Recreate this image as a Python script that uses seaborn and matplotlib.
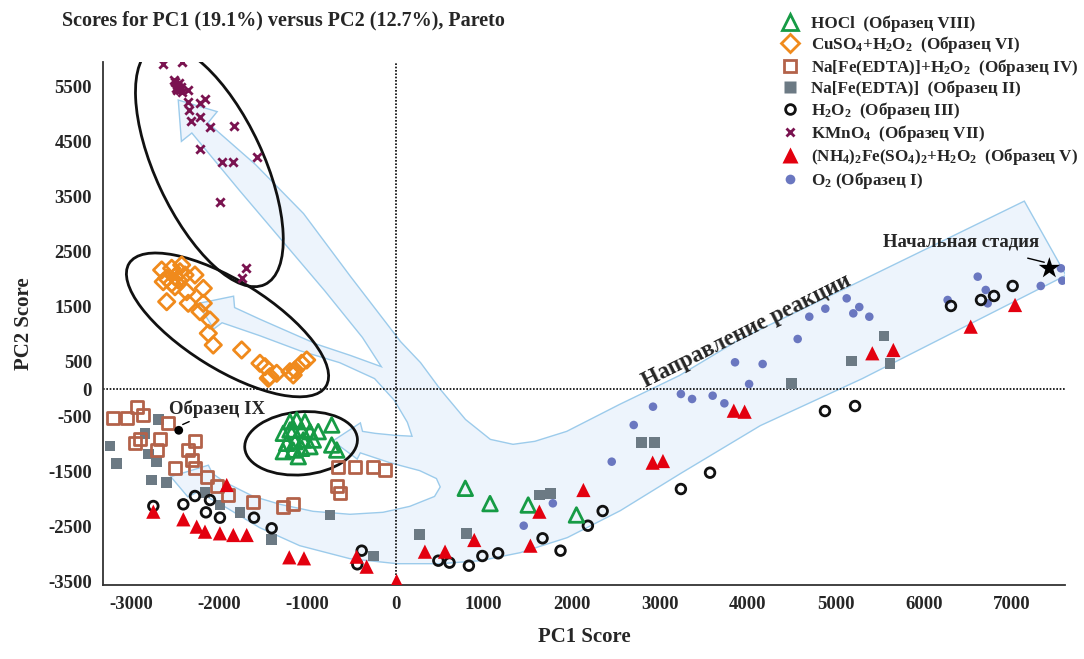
import numpy as np
import matplotlib
matplotlib.use("Agg")
import matplotlib.pyplot as plt
import seaborn as sns
from matplotlib.patches import Ellipse, Polygon
from matplotlib.transforms import ScaledTranslation
from matplotlib.lines import Line2D

# ---------------- data (PC1, PC2 scores) ----------------
hocl_x = [-1201, -1125, -1031, -1277, -1164, -1068, -974, -880, -727, -1239, -1144,
          -1050, -936, -1277, -1164, -1068, -974, -1107, -727, -670, -1201,
          791, 1072, 1506, 2054]
hocl_y = [-589, -558, -589, -800, -740, -740, -770, -770, -649, -982, -952,
          -922, -922, -1134, -1104, -1073, -1043, -1225, -1013, -1104, -740,
          -1800, -2078, -2104, -2285]

cuso4_x = [-2659, -2545, -2432, -2451, -2508, -2602, -2641, -2545, -2470, -2394, -2281,
           -2508, -2375, -2186, -2602, -2357, -2186, -2224, -2110, -2129, -2073, -1750,
           -1542, -1485, -1448, -1352, -1201, -1144, -1068, -1011, -1164, -1428]
cuso4_y = [2169, 2200, 2260, 2138, 2047, 2018, 1956, 1927, 1987, 2078, 2078,
           1865, 1775, 1836, 1593, 1564, 1564, 1411, 1260, 1018, 805, 715,
           473, 411, 200, 291, 320, 351, 473, 533, 260, 230]

feedta_h2o2_x = [-3216, -3057, -2936, -2875, -2584, -2963, -2906, -2678, -2716, -2281,
                 -2357, -2318, -2508, -2281, -2148, -2034, -1902, -1618, -1277, -1164,
                 -652, -463, -255, -122, -670, -633]
feedta_h2o2_y = [-528, -528, -316, -467, -607, -982, -909, -909, -1104, -934,
                 -1104, -1285, -1436, -1436, -1589, -1758, -1922, -2043, -2146, -2085,
                 -1419, -1407, -1419, -1467, -1758, -1891]

feedta_x = [-3247, -3170, -2698, -2849, -2811, -2716, -2773, -2602, -2167, -1997, -1769,
            -1409, -747, -255, 271, 801, 1633, 1760, 2797, 2944, 4500, 5182, 5549, 5617]
feedta_y = [-1031, -1345, -545, -800, -1176, -1316, -1649, -1698, -1880, -2104, -2243,
            -2727, -2285, -3031, -2637, -2619, -1922, -1891, -970, -970, 110, 515, 969, 473]

h2o2_x = [-2754, -2413, -2281, -2110, -2156, -1997, -1610, -1409, -386, -436, 485, 612,
          832, 985, 1164, 1669, 1873, 2184, 2352, 3241, 3572, 4878, 5220, 6310, 6651,
          6799, 7011]
h2o2_y = [-2122, -2091, -1940, -2013, -2237, -2334, -2334, -2527, -2934, -3182, -3116,
          -3152, -3207, -3031, -2982, -2709, -2934, -2480, -2213, -1813, -1516, -395,
          -304, 1515, 1624, 1697, 1879]

kmno4_x = [-2648, -2432, -2508, -2489, -2451, -2470, -2432, -2357, -2357, -2224, -2167,
           -2345, -2330, -2224, -2110, -1834, -2224, -1977, -1852, -1580, -1997, -1705,
           -1743, -2520, -2460, -2500, -2440, -2480]
kmno4_y = [5915, 5945, 5593, 5533, 5442, 5502, 5411, 5442, 5229, 5200, 5273,
           5078, 4878, 4945, 4775, 4793, 4369, 4139, 4139, 4229, 3400, 2200,
           2029, 5620, 5570, 5480, 5500, 5450]

fe2_x = [-2754, -2413, -2261, -2167, -1997, -1845, -1693, -1920, -1209, -1042, -443, -330,
         11, 332, 561, 893, 1531, 1633, 2133, 2920, 3037, 3842, 3965, 5416, 5655, 6534, 7038]
fe2_y = [-2225, -2364, -2497, -2588, -2619, -2649, -2649, -1740, -3055, -3073, -3043, -3225,
         -3485, -2952, -2952, -2740, -2843, -2225, -1831, -1334, -1304, -389, -407, 655, 715,
         1139, 1533]

o2_x = [1455, 1786, 2455, 2705, 2924, 3241, 3368, 3602, 3735, 4016, 3856, 4170, 4568,
        4700, 4882, 5125, 5268, 5200, 5382, 6272, 6614, 6705, 6727, 7330, 7560, 7575]
o2_y = [-2480, -2073, -1316, -649, -316, -85, -176, -116, -255, 96, 491, 460, 915,
        1320, 1466, 1654, 1496, 1381, 1320, 1624, 2048, 1806, 1563, 1879, 2200, 1975]

start_x, start_y = [7428], [2200]
sample9_x, sample9_y = [-2465], [-745]

labels = ["HOCl  (Образец VIII)",
          "CuSO$_4$+H$_2$O$_2$  (Образец VI)",
          "Na[Fe(EDTA)]+H$_2$O$_2$  (Образец IV)",
          "Na[Fe(EDTA)]  (Образец II)",
          "H$_2$O$_2$  (Образец III)",
          "KMnO$_4$  (Образец VII)",
          "(NH$_4$)$_2$Fe(SO$_4$)$_2$+H$_2$O$_2$  (Образец V)",
          "O$_2$ (Образец I)"]

x_ticks = [-3000, -2000, -1000, 0, 1000, 2000, 3000, 4000, 5000, 6000, 7000]
y_ticks = [-3500, -2500, -1500, -500, 0, 500, 1500, 2500, 3500, 4500, 5500]

# reaction-direction band (annotation outline, data units)
band_x = [7140, 5276, 3911, 3231, 2549, 1947, 1583, 1333, 1072, 788, 503, 276, 49, -519,
          -1053, -1599, -2144, -2042, -2462, -2428, -2315, -1769, -1315, -803, -372, -144,
          -519, -894, -1542, -1838, -1849, -2235, -2065, -1974, -1542, -1088, -633, -235,
          -8, 140, 197, -8, -235, -383, -406, -701, -440, -406, -65, 276, 469, 515, 447,
          163, -144, -519, -940, -1315, -1622, -1940, -2088, -2133, -2542, -2360, -2247,
          -1940, -1542, -1088, -519, 15, 503, 958, 1413, 1947, 2549, 3231, 4140, 5299, 7606]
band_y = [3405, 1951, 896, 242, -285, -776, -958, -1013, -922, -558, -13, 478, 860, 2042,
          3187, 4078, 4842, 5042, 5242, 4533, 4678, 3624, 2769, 1805, 951, 387,
          605, 805, 1260, 1478, 1678, 1551, 1115, 1224, 987, 715, 496, 205,
          -195, -595, -867, -849, -813, -776, -631, -940, -1249, -1140, -1322, -1467, -1613,
          -1776, -1958, -2140, -2249, -2285, -2231, -2104, -1958, -1704, -1540, -1395, -1595,
          -1940, -1849, -2122, -2504, -2831, -3067, -3158, -3158, -3104, -2958, -2685, -2195,
          -1522, -649, 206, 2078]

# ---------------- style ----------------
sns.set_style("white")
plt.rcParams['font.family'] = ['Liberation Serif', 'DejaVu Serif']
plt.rcParams['font.weight'] = 'bold'
plt.rcParams['axes.unicode_minus'] = False
plt.rcParams['mathtext.fontset'] = 'custom'
plt.rcParams['mathtext.rm'] = 'Liberation Serif:bold'
plt.rcParams['mathtext.it'] = 'Liberation Serif:bold'
plt.rcParams['mathtext.bf'] = 'Liberation Serif:bold'
plt.rcParams['mathtext.default'] = 'rm'

C_GREEN = "#169b45"
C_ORANGE = "#f08a1c"
C_BROWN = "#b3624a"
C_GRAY = "#6c7a84"
C_BLACK = "#111111"
C_PURPLE = "#7a1350"
C_RED = "#e3000f"
C_BLUE = "#6a77c0"

fig = plt.figure(figsize=(10.84, 6.59), dpi=100)
ax = fig.add_axes([0.0950, 0.1123, 0.8875, 0.7936])
ax.set_xlim(-3326, 7606)
ax.set_ylim(-3558, 5951)

# band: outline layer then fill layer
pts = np.column_stack([band_x, band_y])
ax.add_patch(Polygon(pts, closed=True, facecolor="none", edgecolor="#9ccbeb",
                     linewidth=2.0, zorder=1))
ax.add_patch(Polygon(pts, closed=True, facecolor="#edf4fc", edgecolor="none",
                     linewidth=0, zorder=1.1))

# zero lines
ax.axhline(0, color="black", linestyle=(0, (1, 1)), linewidth=1.2, zorder=1.5)
ax.axvline(0, color="black", linestyle=(0, (1, 1)), linewidth=1.2, zorder=1.5)

# cluster ellipses (center in data, size in pixels, angle in display)
def ell(cx, cy, a_px, b_px, ang):
    tr = fig.dpi_scale_trans + ScaledTranslation(cx, cy, ax.transData)
    e = Ellipse((0, 0), 2 * a_px / 100, 2 * b_px / 100, angle=ang, transform=tr,
                facecolor="none", edgecolor="#111111", linewidth=2.0, zorder=2)
    ax.add_patch(e)

ell(-2117, 4064, 131, 54, 115)
ell(-1911, 1171, 116, 44, -32)
ell(-1075, -982, 56.5, 31.5, 5)

# series
sns.scatterplot(x=o2_x, y=o2_y, ax=ax, marker="o", s=38, color=C_BLUE,
                edgecolor="none", linewidth=0, zorder=3)
sns.scatterplot(x=feedta_x, y=feedta_y, ax=ax, marker="s", s=60, color=C_GRAY,
                edgecolor="none", linewidth=0, zorder=3)
sns.scatterplot(x=h2o2_x, y=h2o2_y, ax=ax, marker="o", s=48, facecolor="none",
                edgecolor=C_BLACK, linewidth=2.0, zorder=4)
sns.scatterplot(x=fe2_x, y=fe2_y, ax=ax, marker="^", s=105, color=C_RED,
                edgecolor="none", linewidth=0, zorder=5)
sns.scatterplot(x=feedta_h2o2_x, y=feedta_h2o2_y, ax=ax, marker="s", s=75,
                facecolor="none", edgecolor=C_BROWN, linewidth=2.0, zorder=4)
sns.scatterplot(x=cuso4_x, y=cuso4_y, ax=ax, marker="D", s=70, facecolor="none",
                edgecolor=C_ORANGE, linewidth=2.0, zorder=4)
sns.scatterplot(x=hocl_x, y=hocl_y, ax=ax, marker="^", s=110, facecolor="none",
                edgecolor=C_GREEN, linewidth=2.0, zorder=4)
sns.scatterplot(x=kmno4_x, y=kmno4_y, ax=ax, marker="x", s=36, color=C_PURPLE,
                linewidth=2.0, zorder=4)
sns.scatterplot(x=start_x, y=start_y, ax=ax, marker="*", s=260, color="black",
                edgecolor="none", linewidth=0, zorder=6)
sns.scatterplot(x=sample9_x, y=sample9_y, ax=ax, marker="o", s=40, color="black",
                edgecolor="none", linewidth=0, zorder=6)

# annotations
ax.annotate("Начальная стадия", xy=(7370, 2310), xytext=(6428, 2684),
            ha="center", va="center", fontsize=13.5, fontweight="bold",
            arrowprops=dict(arrowstyle="-", color="black", lw=1.0,
                            shrinkA=14, shrinkB=0), zorder=7)
ax.annotate("Образец IX", xy=(-2420, -640), xytext=(-2036, -364),
            ha="center", va="center", fontsize=13.5, fontweight="bold",
            arrowprops=dict(arrowstyle="-", color="black", lw=1.0,
                            shrinkA=9, shrinkB=0), zorder=7)
ax.text(3990, 1060, "Направление реакции", rotation=26.5, rotation_mode="anchor",
        ha="center", va="center", fontsize=16.5, fontweight="bold", zorder=7)

# axes styling
for side in ["top", "right"]:
    ax.spines[side].set_visible(False)
for side in ["left", "bottom"]:
    ax.spines[side].set_linewidth(1.3)
    ax.spines[side].set_color("#333333")
ax.set_xticks(x_ticks)
ax.set_yticks(y_ticks)
ax.set_yticks(np.arange(-3000, 5600, 1000), minor=True)
ax.tick_params(axis="both", which="both", direction="in", length=4, width=1,
               labelsize=13.5, pad=8)
for t in ax.get_xticklabels() + ax.get_yticklabels():
    t.set_fontweight("bold")
ax.set_xlabel("PC1 Score", fontsize=15, fontweight="bold", labelpad=10)
ax.set_ylabel("PC2 Score", fontsize=15, fontweight="bold", labelpad=10)

fig.text(62 / 1084, 1 - 20 / 659, "Scores for PC1 (19.1%) versus PC2 (12.7%), Pareto",
         ha="left", va="center", fontsize=14.5, fontweight="bold")

# legend
handles = [
    Line2D([], [], marker="^", ls="none", mfc="none", mec=C_GREEN, ms=11, mew=2),
    Line2D([], [], marker="D", ls="none", mfc="none", mec=C_ORANGE, ms=9, mew=2),
    Line2D([], [], marker="s", ls="none", mfc="none", mec=C_BROWN, ms=9, mew=2),
    Line2D([], [], marker="s", ls="none", mfc=C_GRAY, mec="none", ms=8),
    Line2D([], [], marker="o", ls="none", mfc="none", mec=C_BLACK, ms=7, mew=2),
    Line2D([], [], marker="x", ls="none", color=C_PURPLE, ms=6, mew=2),
    Line2D([], [], marker="^", ls="none", mfc=C_RED, mec="none", ms=11),
    Line2D([], [], marker="o", ls="none", mfc=C_BLUE, mec="none", ms=7),
]
fig.legend(handles, labels, loc="upper left", bbox_to_anchor=(779 / 1084, 1 - 15 / 659),
           frameon=False, handlelength=1.3, handletextpad=0.6,
           labelspacing=0.14, borderpad=0, borderaxespad=0,
           prop={"family": ["Liberation Serif"], "weight": "bold", "size": 12.3})

fig.savefig("out.png", dpi=100)
